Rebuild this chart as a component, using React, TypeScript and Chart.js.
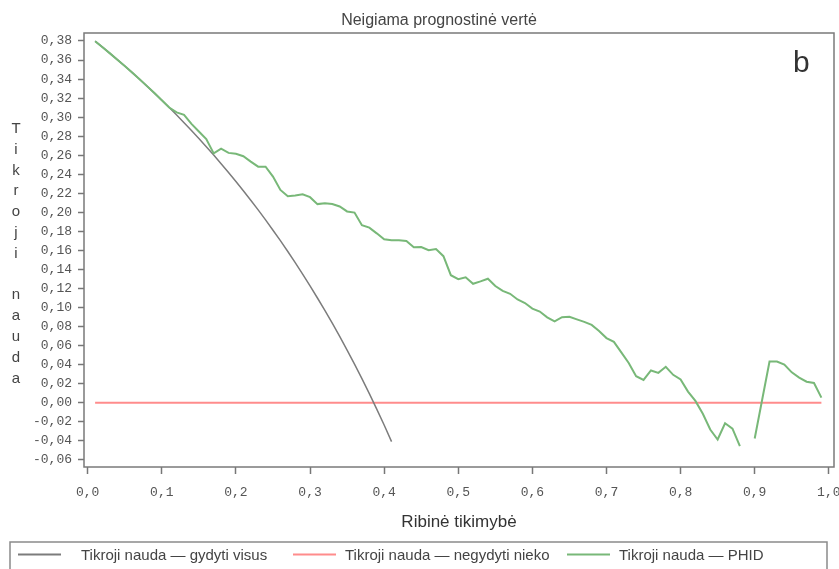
import React, { useEffect, useRef } from "react";
import { Chart, registerables } from "chart.js";

Chart.register(...registerables);

// Threshold probabilities (x) for the decision curves
const thresholds = [
  0.01, 0.02, 0.03, 0.04, 0.05, 0.06, 0.07, 0.08, 0.09, 0.1,
  0.11, 0.12, 0.13, 0.14, 0.15, 0.16, 0.17, 0.18, 0.19, 0.2,
  0.21, 0.22, 0.23, 0.24, 0.25, 0.26, 0.27, 0.28, 0.29, 0.3,
  0.31, 0.32, 0.33, 0.34, 0.35, 0.36, 0.37, 0.38, 0.39, 0.4,
  0.41, 0.42, 0.43, 0.44, 0.45, 0.46, 0.47, 0.48, 0.49, 0.5,
  0.51, 0.52, 0.53, 0.54, 0.55, 0.56, 0.57, 0.58, 0.59, 0.6,
  0.61, 0.62, 0.63, 0.64, 0.65, 0.66, 0.67, 0.68, 0.69, 0.7,
  0.71, 0.72, 0.73, 0.74, 0.75, 0.76, 0.77, 0.78, 0.79, 0.8,
  0.81, 0.82, 0.83, 0.84, 0.85, 0.86, 0.87, 0.88, 0.89, 0.9,
  0.91, 0.92, 0.93, 0.94, 0.95, 0.96, 0.97, 0.98, 0.99,
];

// "Treat all" net benefit, thresholds 0.01 – 0.41
const treatAllThresholds = thresholds.slice(0, 41);
const treatAllValues = [
  0.3798, 0.3735, 0.367, 0.3604, 0.3537, 0.3468, 0.3398, 0.3326, 0.3253, 0.3178,
  0.3101, 0.3023, 0.2942, 0.286, 0.2776, 0.269, 0.2602, 0.2512, 0.242, 0.2325,
  0.2228, 0.2128, 0.2026, 0.1921, 0.1813, 0.1703, 0.1589, 0.1472, 0.1352, 0.1229,
  0.1101, 0.0971, 0.0836, 0.0697, 0.0554, 0.0406, 0.0254, 0.0097, -0.0066, -0.0233,
  -0.0407,
];

// "Treat none" net benefit
const treatNoneThresholds = [0.01, 0.99];
const treatNoneValues = [0, 0];

// PHID model net benefit (null = no value at that threshold)
const phidValues = [
  0.3798, 0.3735, 0.367, 0.3604, 0.3537, 0.3468, 0.3398, 0.3326, 0.3253, 0.3178,
  0.3101, 0.305, 0.3025, 0.293, 0.285, 0.277, 0.262, 0.267, 0.2625, 0.2615,
  0.259, 0.2533, 0.248, 0.248, 0.2376, 0.2236, 0.217, 0.2177, 0.219, 0.216,
  0.2087, 0.2096, 0.2088, 0.2062, 0.201, 0.1998, 0.1865, 0.184, 0.178, 0.1717,
  0.1708, 0.1708, 0.17, 0.1635, 0.1636, 0.1602, 0.1615, 0.154, 0.134, 0.1299,
  0.1318, 0.125, 0.1275, 0.1303, 0.1227, 0.1176, 0.1145, 0.1085, 0.1048, 0.099,
  0.0959, 0.0898, 0.0856, 0.09, 0.0903, 0.0876, 0.085, 0.0818, 0.0755, 0.068,
  0.064, 0.053, 0.0418, 0.028, 0.0241, 0.034, 0.0315, 0.0378, 0.0294, 0.0245,
  0.0118, 0.002, -0.0115, -0.028, -0.0385, -0.0215, -0.0272, -0.0455, null, -0.0375,
  0.003, 0.0434, 0.0434, 0.0402, 0.032, 0.0265, 0.0222, 0.0208, 0.0055,
];

const xTickValues = [0, 0.1, 0.2, 0.3, 0.4, 0.5, 0.6, 0.7, 0.8, 0.9, 1.0];
const yTickValues = [
  -0.06, -0.04, -0.02, 0, 0.02, 0.04, 0.06, 0.08, 0.1, 0.12, 0.14, 0.16, 0.18,
  0.2, 0.22, 0.24, 0.26, 0.28, 0.3, 0.32, 0.34, 0.36, 0.38,
];

const chartTitle = "Neigiama prognostinė vertė";
const panelLetter = "b";
const xAxisTitle = "Ribinė tikimybė";
const yAxisTitle = "Tikroji nauda";
const seriesLabels = [
  "Tikroji nauda — gydyti visus",
  "Tikroji nauda — negydyti nieko",
  "Tikroji nauda — PHID",
];
const seriesColors = ["#7c7c7c", "#ff8c8c", "#78b878"];

const toPoints = (xs: number[], ys: (number | null)[]) =>
  xs.map((x, i) => ({ x, y: ys[i] }));

const decimalComma = (v: number, digits: number) =>
  v.toFixed(digits).replace(".", ",");

const SANS = "'Liberation Sans', Arial, sans-serif";
const MONO = "'Liberation Mono', 'Courier New', monospace";

// Frame, title, panel letter, stacked y title and boxed legend
const decorations = {
  id: "decorations",
  afterDraw(chart: any) {
    const { ctx, chartArea } = chart;
    ctx.save();

    // plot frame
    ctx.strokeStyle = "#7a7a7a";
    ctx.lineWidth = 1.5;
    ctx.strokeRect(
      chartArea.left,
      chartArea.top,
      chartArea.right - chartArea.left,
      chartArea.bottom - chartArea.top
    );

    // title
    ctx.fillStyle = "#444";
    ctx.font = `16px ${SANS}`;
    ctx.textAlign = "center";
    ctx.textBaseline = "alphabetic";
    ctx.fillText(chartTitle, 439, 25);

    // panel letter
    ctx.fillStyle = "#333";
    ctx.font = `30px ${SANS}`;
    ctx.textAlign = "left";
    ctx.fillText(panelLetter, chartArea.right - 41, chartArea.top + 39);

    // vertical y title, one character per line
    ctx.fillStyle = "#444";
    ctx.font = `15px ${SANS}`;
    ctx.textAlign = "center";
    Array.from(yAxisTitle).forEach((ch, i) => {
      ctx.fillText(ch, 16, 133 + i * 20.8);
    });

    // legend box
    ctx.strokeStyle = "#8a8a8a";
    ctx.lineWidth = 1.5;
    ctx.strokeRect(10, 542, 817, 60);
    const sampleX = [18, 293, 567];
    const textX = [81, 345, 619];
    const rowY = 554.5;
    ctx.font = `15px ${SANS}`;
    ctx.textAlign = "left";
    ctx.textBaseline = "middle";
    seriesLabels.forEach((label, i) => {
      ctx.strokeStyle = seriesColors[i];
      ctx.lineWidth = 2;
      ctx.beginPath();
      ctx.moveTo(sampleX[i], rowY);
      ctx.lineTo(sampleX[i] + 43, rowY);
      ctx.stroke();
      ctx.fillStyle = "#444";
      ctx.fillText(label, textX[i], rowY + 1);
    });

    ctx.restore();
  },
};

export default function App() {
  const canvasRef = useRef<HTMLCanvasElement | null>(null);

  useEffect(() => {
    const canvas = canvasRef.current;
    if (!canvas) return;

    const chart = new Chart(canvas, {
      type: "line",
      data: {
        // first dataset is painted last, so the PHID curve sits on top
        datasets: [
          {
            label: seriesLabels[2],
            data: toPoints(thresholds, phidValues),
            borderColor: seriesColors[2],
            backgroundColor: seriesColors[2],
            borderWidth: 2,
            spanGaps: false,
          },
          {
            label: seriesLabels[0],
            data: toPoints(treatAllThresholds, treatAllValues),
            borderColor: seriesColors[0],
            backgroundColor: seriesColors[0],
            borderWidth: 1.5,
          },
          {
            label: seriesLabels[1],
            data: toPoints(treatNoneThresholds, treatNoneValues),
            borderColor: seriesColors[1],
            backgroundColor: seriesColors[1],
            borderWidth: 2,
          },
        ],
      },
      options: {
        animation: false,
        responsive: false,
        devicePixelRatio: 1,
        layout: { padding: { top: 33, right: 5, left: 0, bottom: 0 } },
        elements: {
          point: { radius: 0, hoverRadius: 0 },
          line: { tension: 0 },
        },
        plugins: {
          legend: { display: false },
          tooltip: { enabled: false },
          title: { display: false },
        },
        scales: {
          x: {
            type: "linear",
            min: -0.005,
            max: 1.007,
            afterBuildTicks: (scale: any) => {
              scale.ticks = xTickValues.map((value) => ({ value }));
            },
            afterFit: (scale: any) => {
              scale.height = 102;
              scale.paddingLeft = 0;
              scale.paddingRight = 0;
            },
            border: { display: false },
            grid: {
              drawOnChartArea: false,
              drawTicks: true,
              tickLength: 7,
              tickColor: "#777",
              tickWidth: 1.5,
            },
            ticks: {
              autoSkip: false,
              maxRotation: 0,
              padding: 11,
              color: "#555",
              font: { family: MONO, size: 13 },
              callback: (v: any) => decimalComma(Number(v), 1),
            },
            title: {
              display: true,
              text: xAxisTitle,
              color: "#333",
              font: { family: SANS, size: 17 },
              padding: { top: 0, bottom: 36 },
            },
          },
          y: {
            type: "linear",
            min: -0.0674,
            max: 0.3884,
            afterBuildTicks: (scale: any) => {
              scale.ticks = yTickValues.map((value) => ({ value }));
            },
            afterFit: (scale: any) => {
              scale.width = 84;
              scale.paddingTop = 0;
              scale.paddingBottom = 0;
            },
            border: { display: false },
            grid: {
              drawOnChartArea: false,
              drawTicks: true,
              tickLength: 6,
              tickColor: "#777",
              tickWidth: 1.5,
            },
            ticks: {
              autoSkip: false,
              padding: 6,
              color: "#555",
              font: { family: MONO, size: 13 },
              callback: (v: any) => decimalComma(Number(v), 2),
            },
          },
        },
      },
      plugins: [decorations],
    });

    return () => chart.destroy();
  }, []);

  return (
    <div
      style={{
        position: "absolute",
        left: 0,
        top: 0,
        width: 839,
        height: 569,
        background: "#fff",
      }}
    >
      <canvas
        ref={canvasRef}
        width={839}
        height={569}
        style={{ display: "block", width: 839, height: 569 }}
      />
    </div>
  );
}
